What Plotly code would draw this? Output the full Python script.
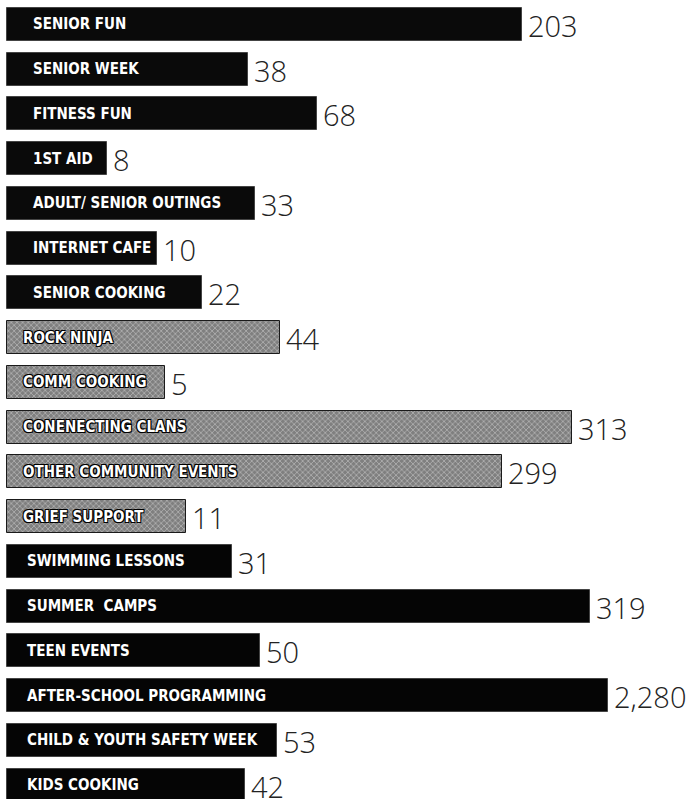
import plotly.graph_objects as go

# Data
programs = [
    "SENIOR FUN", "SENIOR WEEK", "FITNESS FUN", "1ST AID", "ADULT/ SENIOR OUTINGS",
    "INTERNET CAFE", "SENIOR COOKING", "ROCK NINJA", "COMM COOKING", "CONENECTING CLANS",
    "OTHER COMMUNITY EVENTS", "GRIEF SUPPORT", "SWIMMING LESSONS", "SUMMER  CAMPS",
    "TEEN EVENTS", "AFTER-SCHOOL PROGRAMMING", "CHILD & YOUTH SAFETY WEEK", "KIDS COOKING",
]
attendance = [203, 38, 68, 8, 33, 10, 22, 44, 5, 313, 299, 11, 31, 319, 50, 2280, 53, 42]
value_labels = ["203", "38", "68", "8", "33", "10", "22", "44", "5", "313", "299", "11",
                "31", "319", "50", "2,280", "53", "42"]
# drawn bar lengths as they appear in the infographic (not proportional to values)
bar_length = [515, 241, 310, 100, 248, 150, 195, 273, 158, 565, 495, 179,
              225, 583, 253, 601, 270, 238]
group = ["senior"] * 7 + ["community"] * 5 + ["youth"] * 6

colors = {"senior": "#0a0a0a", "community": "#7f7f7f", "youth": "#050505"}
label_shift = {"senior": 24, "community": 14, "youth": 18}

idx = list(range(len(programs)))

fig = go.Figure()
fig.add_trace(go.Bar(
    y=idx,
    x=bar_length,
    orientation="h",
    width=0.74,
    marker=dict(
        color=[colors[g] for g in group],
        line=dict(color=["#444" if g != "community" else "#1a1a1a" for g in group], width=1),
        pattern=dict(
            shape=["" if g != "community" else "x" for g in group],
            fgcolor="#2a2a2a",
            bgcolor="#a0a0a0",
            size=4,
            solidity=0.3,
            fillmode="overlay",
        ),
    ),
    customdata=attendance,
    hovertemplate="%{text}: %{customdata}<extra></extra>",
    text=programs,
    textposition="none",
))

annotations = []
for i, (name, val, L, g) in enumerate(zip(programs, value_labels, bar_length, group)):
    shadow = "none"
    if g == "community":
        shadow = "1px 1px 0 #000, -1px -1px 0 #000, 1px -1px 0 #000, -1px 1px 0 #000"
    annotations.append(dict(
        x=0, y=i, xref="x", yref="y", text=name, showarrow=False,
        xanchor="left", yanchor="middle", xshift=label_shift[g],
        font=dict(family="DejaVu Sans Condensed, Liberation Sans Narrow, sans-serif",
                  size=15, color="white", weight="bold", shadow=shadow),
    ))
    annotations.append(dict(
        x=L, y=i, xref="x", yref="y", text=val, showarrow=False,
        xanchor="left", yanchor="middle", xshift=4, yshift=-1,
        font=dict(family="Open Sans, Lato, sans-serif", size=29, color="#222", weight=300),
    ))

fig.update_layout(
    width=695, height=799,
    margin=dict(l=0, r=0, t=0, b=0),
    paper_bgcolor="white", plot_bgcolor="white",
    showlegend=False,
    annotations=annotations,
    bargap=0,
)
fig.update_xaxes(range=[-7, 688], visible=False, fixedrange=True)
fig.update_yaxes(range=[17.31, -0.545], visible=False, fixedrange=True)

fig.write_html("out.html")
